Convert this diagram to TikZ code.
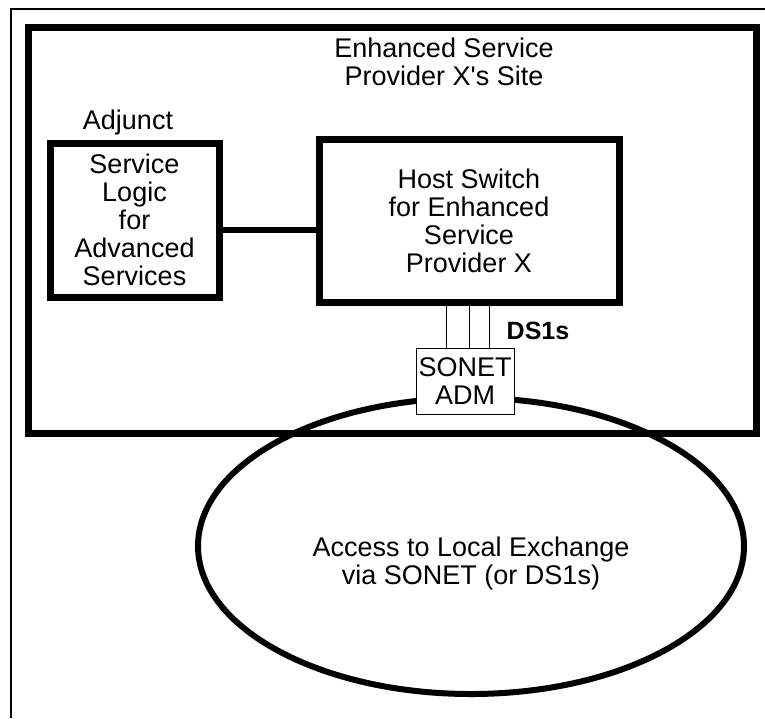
\documentclass[tikz,border=0pt]{standalone}
\usepackage{fontspec}
\setmainfont{Liberation Sans}
\usetikzlibrary{positioning,shapes.geometric,calc}

\begin{document}
\begin{tikzpicture}[x=1pt, y=-1pt,
    every node/.style={font=\fontsize{27}{28}\selectfont, align=center},
    heavybox/.style={draw, line width=7pt, inner sep=0pt},
    thinline/.style={line width=1pt}]
  \useasboundingbox (0,0) rectangle (765,718);
  % page edge
  \draw[line width=1.5pt] (11,718) -- (11,9) -- (765,9);
  % the provider's site
  \node[heavybox, minimum width=728pt, minimum height=406pt] (site) at (392,230) {};
  \node (title) at (444,62) {Enhanced Service\\Provider X\textquotesingle s Site};
  % adjunct processor
  \node[heavybox, minimum width=169pt, minimum height=154pt] (adj) at (134.5,220)
    {Service\\Logic\\for\\Advanced\\Services};
  \node (adjlabel) at (128,123) {Adjunct};
  % host switch
  \node[heavybox, minimum width=300pt, minimum height=163pt] (host) at (469,220.5)
    {Host Switch\\for Enhanced\\Service\\Provider X};
  \draw[line width=6pt] ([yshift=-10pt]adj.east) -- ([yshift=-10pt]adj.east -| host.west);
  % access ring
  \node[ellipse, draw, line width=6pt, minimum width=546pt, minimum height=296pt] (ring) at (471,546) {};
  \node (ringlabel) at (471,564) {Access to Local Exchange\\via SONET (or DS1s)};
  % ADM on the ring
  \node[draw, fill=white, thinline, minimum width=98pt, minimum height=66pt, inner sep=0pt] (adm) at (465,381) {SONET\\ADM};
  % DS1 tributaries
  \foreach \dx in {-19,4,24}
    \draw[thinline] ([xshift=\dx pt]adm.north) -- ([xshift=\dx pt]adm.north |- host.south);
  \node[font=\bfseries\fontsize{25}{26}\selectfont] (ds1) at (538,331) {DS1s};
\end{tikzpicture}
\end{document}
